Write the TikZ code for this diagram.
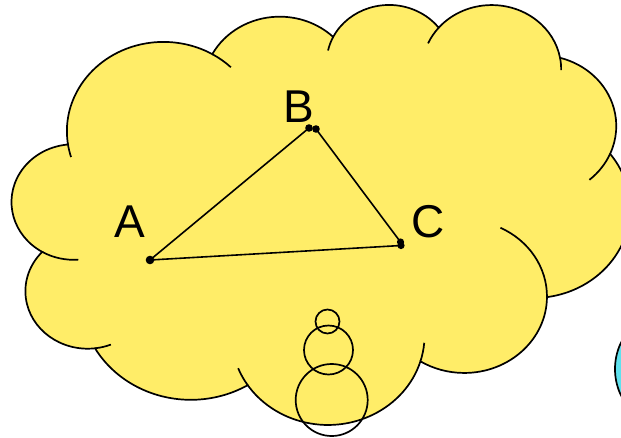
\documentclass[tikz,border=0pt]{standalone}
\usepackage{fontspec}
\setmainfont{Liberation Sans}

\definecolor{cloudyellow}{RGB}{255,237,104}
\definecolor{dropcyan}{RGB}{95,226,238}

\begin{document}
\begin{tikzpicture}[
  x=1pt, y=-1pt,
  outline/.style = {draw=black, line width=1.7pt},
  edge/.style    = {draw=black, line width=1.6pt},
  lbl/.style     = {font=\fontsize{46}{46}\selectfont, inner sep=0pt, anchor=base},
  % lobe = {x radius}{y radius}{start angle}{sweep}, angles seen from the centre
  lobe/.code n args = {4}{%
    \pgfmathsetmacro\lobeS{atan2((#1)*sin(#3),(#2)*cos(#3))}%
    \pgfmathsetmacro\lobeE{atan2((#1)*sin((#3)+(#4)),(#2)*cos((#3)+(#4)))}%
    \pgfmathsetmacro\lobeD{mod(\lobeE-(\lobeS)+900,360)-180}%
    \pgfmathsetmacro\lobeF{\lobeS+(\lobeD)}%
    \pgfkeysalso{start angle=\lobeS, end angle=\lobeF, x radius=#1, y radius=#2}}
]

\clip (0,0) rectangle (621,437);

%% ---- drop at the right edge ----
\draw[outline, fill=dropcyan] (676,369) circle[radius=61];

%% ---- cloud ----
\begin{scope}[shift={(12,3.6)}, x=1.4303pt, y=-0.9718pt]
\draw[outline, fill=cloudyellow] (39.00,143.70) coordinate (j0)
  arc[lobe={67.53}{91.90}{-190.48748}{123.78053}] coordinate (j1)
  arc[lobe={53.33}{72.67}{-144.10238}{89.94523}] coordinate (j2)
  arc[lobe={43.65}{59.45}{-145.80792}{99.72302}] coordinate (j3)
  arc[lobe={48.57}{65.95}{-130.98607}{117.24173}] coordinate (j4)
  arc[lobe={53.33}{72.73}{-78.70888}{109.02692}] coordinate (j5)
  arc[lobe={67.75}{92.20}{-46.26725}{130.26900}] coordinate (j6)
  arc[lobe={57.85}{78.67}{0.62502}{114.03333}] coordinate (j7)
  arc[lobe={67.52}{92.15}{22.45160}{115.17255}] coordinate (j8)
  arc[lobe={77.20}{105.43}{66.24263}{75.71102}] coordinate (j9)
  arc[lobe={43.60}{59.18}{-274.94208}{146.73557}] coordinate (j10)
  arc[lobe={43.45}{59.45}{-246.82850}{152.51885}]
  -- cycle;

% inner ends of the lobes
\draw[outline] (j0)  arc[lobe={67.53}{91.90}{169.51252}{-11.85817}];
\draw[outline] (j1)  arc[lobe={67.53}{91.90}{-66.70695}{12.31935}];
\draw[outline] (j2)  arc[lobe={43.65}{59.45}{-145.80792}{-17.68635}];
\draw[outline] (j3)  arc[lobe={48.57}{65.95}{-130.98607}{-18.19537}];
\draw[outline] (j4)  arc[lobe={48.57}{65.95}{-13.74434}{14.85890}];
\draw[outline] (j5)  arc[lobe={53.33}{72.73}{30.31804}{27.75150}];
\draw[outline] (j6)  arc[lobe={57.85}{78.67}{0.62502}{-70.91737}];
\draw[outline] (j7)  arc[lobe={67.52}{92.15}{22.45160}{-15.99835}];
\draw[outline] (j8)  arc[lobe={67.52}{92.15}{137.62415}{14.08110}];
\draw[outline] (j9)  arc[lobe={43.60}{59.18}{85.05792}{-11.44747}];
\draw[outline] (j10) arc[lobe={43.45}{59.45}{113.17150}{-26.42950}];
\end{scope}

%% ---- triangle ----
\coordinate (A)  at (150,260);
\coordinate (B1) at (309,128);
\coordinate (B2) at (316,129);
\coordinate (C1) at (400.5,242);
\coordinate (C2) at (401,245.5);

\draw[edge] (A) -- (B1);
\draw[edge] (B2) -- (C1);
\draw[edge] (A) -- (C2);

\fill (A)  circle[radius=4.3];
\fill (B1) circle[radius=3.8];
\fill (B2) circle[radius=3.8];
\fill (C1) circle[radius=3.6];
\fill (C2) circle[radius=3.6];

\node[lbl] (labA) at (130,237)   {A};
\node[lbl] (labB) at (299,122)   {B};
\node[lbl] (labC) at (428,237.5) {C};

%% ---- thought bubbles ----
\draw[outline] (327.5,321.5) circle[radius=12];
\draw[outline] (328.5,350)   circle[radius=24.5];
\draw[outline] (331.7,400)   circle[radius=36];

\end{tikzpicture}
\end{document}
